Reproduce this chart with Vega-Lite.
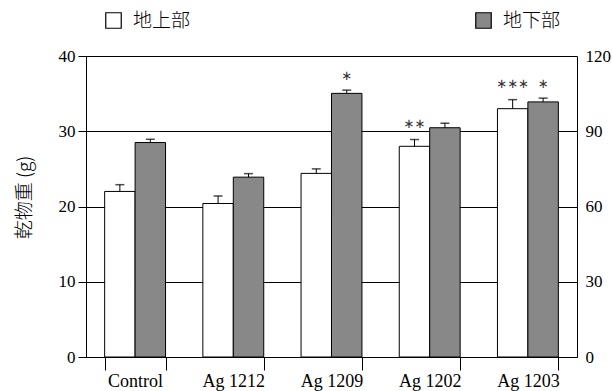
{
  "$schema": "https://vega.github.io/schema/vega-lite/v6.json",
  "width": 491,
  "height": 301,
  "autosize": "none",
  "padding": {"left": 86, "top": 56, "right": 35, "bottom": 34},
  "background": "white",
  "config": {"view": {"stroke": null}},
  "data": {
    "values": [
      {"group": "Control", "part": "地上部", "value": 22.0, "err": 22.9, "sig": ""},
      {"group": "Control", "part": "地下部", "value": 85.5, "err": 86.8, "sig": ""},
      {"group": "Ag 1212", "part": "地上部", "value": 20.4, "err": 21.4, "sig": ""},
      {"group": "Ag 1212", "part": "地下部", "value": 71.7, "err": 73.1, "sig": ""},
      {"group": "Ag 1209", "part": "地上部", "value": 24.4, "err": 25.0, "sig": ""},
      {"group": "Ag 1209", "part": "地下部", "value": 105.1, "err": 106.4, "sig": "∗"},
      {"group": "Ag 1202", "part": "地上部", "value": 28.0, "err": 28.9, "sig": "∗∗"},
      {"group": "Ag 1202", "part": "地下部", "value": 91.4, "err": 93.2, "sig": ""},
      {"group": "Ag 1203", "part": "地上部", "value": 33.0, "err": 34.2, "sig": "∗∗∗"},
      {"group": "Ag 1203", "part": "地下部", "value": 101.7, "err": 103.2, "sig": "∗"}
    ]
  },
  "encoding": {
    "x": {
      "field": "group",
      "type": "nominal",
      "sort": ["Control", "Ag 1212", "Ag 1209", "Ag 1202", "Ag 1203"],
      "scale": {"paddingInner": 0.38, "paddingOuter": 0.19},
      "axis": {
        "title": null,
        "labelAngle": 0,
        "tickBand": "extent",
        "tickSize": 13,
        "tickColor": "black",
        "domainColor": "black",
        "labelFont": "Liberation Serif",
        "labelFontSize": 18,
        "labelColor": "black",
        "labelPadding": 2
      }
    },
    "xOffset": {"field": "part", "type": "nominal", "scale": {"domain": ["地上部", "地下部"], "paddingInner": 0, "paddingOuter": 0}}
  },
  "layer": [
    {
      "transform": [{"filter": "datum.part === '地上部'"}],
      "encoding": {
        "y": {
          "field": "value",
          "type": "quantitative",
          "scale": {"domain": [0, 40], "nice": false},
          "axis": {
            "orient": "left",
            "title": "乾物重 (g)",
            "titleFont": "Noto Sans CJK JP",
            "titleFontSize": 19,
            "titleFontWeight": 300,
            "titleColor": "black",
            "titlePadding": 24,
            "titleY": 141,
            "values": [0, 10, 20, 30, 40],
            "grid": true,
            "gridColor": "black",
            "gridOpacity": 1,
            "gridWidth": 1,
            "tickSize": 8,
            "tickColor": "black",
            "domainColor": "black",
            "labelFont": "Liberation Serif",
            "labelFontSize": 17,
            "labelColor": "black",
            "labelPadding": 3
          }
        }
      },
      "layer": [
        {
          "mark": {"type": "bar", "stroke": "black", "strokeWidth": 1},
          "encoding": {
            "fill": {
              "field": "part",
              "type": "nominal",
              "scale": {"domain": ["地上部"], "range": ["white"]},
              "legend": {
                "orient": "none",
                "legendX": 18,
                "legendY": -45,
                "title": null,
                "symbolType": "square",
                "symbolSize": 240,
                "symbolStrokeColor": "black",
                "symbolStrokeWidth": 1.2,
                "labelFont": "Noto Sans CJK JP",
                "labelFontSize": 19,
                "labelFontWeight": 300,
                "labelColor": "black",
                "labelOffset": 10
              }
            }
          }
        },
        {
          "mark": {"type": "rule", "color": "black", "strokeWidth": 1},
          "encoding": {"y2": {"field": "err"}}
        },
        {
          "mark": {"type": "tick", "color": "black", "thickness": 1.5, "size": 9},
          "encoding": {"y": {"field": "err", "type": "quantitative"}}
        },
        {
          "transform": [{"filter": "datum.sig !== ''"}],
          "mark": {"type": "text", "font": "DejaVu Sans", "fontSize": 13, "color": "#333333", "baseline": "middle", "dy": -16},
          "encoding": {"y": {"field": "err", "type": "quantitative"}, "text": {"field": "sig"}}
        }
      ]
    },
    {
      "transform": [{"filter": "datum.part === '地下部'"}],
      "encoding": {
        "y": {
          "field": "value",
          "type": "quantitative",
          "scale": {"domain": [0, 120], "nice": false},
          "axis": {
            "orient": "right",
            "title": null,
            "values": [0, 30, 60, 90, 120],
            "grid": false,
            "tickSize": 0,
            "domainColor": "black",
            "labelFont": "Liberation Serif",
            "labelFontSize": 17,
            "labelColor": "black",
            "labelPadding": 8
          }
        }
      },
      "layer": [
        {
          "mark": {"type": "bar", "stroke": "black", "strokeWidth": 1},
          "encoding": {
            "fill": {
              "field": "part",
              "type": "nominal",
              "scale": {"domain": ["地下部"], "range": ["#888888"]},
              "legend": {
                "orient": "none",
                "legendX": 388,
                "legendY": -45,
                "title": null,
                "symbolType": "square",
                "symbolSize": 240,
                "symbolStrokeColor": "black",
                "symbolStrokeWidth": 1.2,
                "labelFont": "Noto Sans CJK JP",
                "labelFontSize": 19,
                "labelFontWeight": 300,
                "labelColor": "black",
                "labelOffset": 10
              }
            }
          }
        },
        {
          "mark": {"type": "rule", "color": "black", "strokeWidth": 1},
          "encoding": {"y2": {"field": "err"}}
        },
        {
          "mark": {"type": "tick", "color": "black", "thickness": 1.5, "size": 9},
          "encoding": {"y": {"field": "err", "type": "quantitative"}}
        },
        {
          "transform": [{"filter": "datum.sig !== ''"}],
          "mark": {"type": "text", "font": "DejaVu Sans", "fontSize": 13, "color": "#333333", "baseline": "middle", "dy": -14},
          "encoding": {"y": {"field": "err", "type": "quantitative"}, "text": {"field": "sig"}}
        }
      ]
    }
  ],
  "resolve": {"scale": {"y": "independent", "fill": "independent"}, "legend": {"fill": "independent"}}
}
